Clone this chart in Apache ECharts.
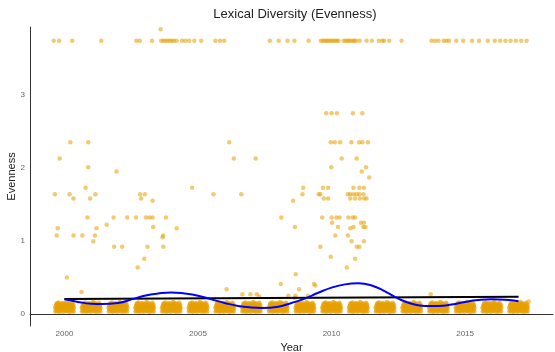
<!DOCTYPE html>
<html><head><meta charset="utf-8">
<script src="https://cdn.jsdelivr.net/npm/echarts@6/dist/echarts.min.js"></script>
<style>html,body{margin:0;padding:0;background:#fff}#c{width:555px;height:352px}</style>
</head><body><div id="c"></div>
<script>
const years = [2000,2001,2002,2003,2004,2005,2006,2007,2008,2009,2010,2011,2012,2013,2014,2015,2016,2017];
// jitter template of the dense low-evenness band (per-year cluster)
const clusterDx = [-0.34,-0.26,-0.19,-0.11,-0.03,0.05,0.12,0.20,0.27,0.34,
  -0.31,-0.23,-0.15,-0.07,0.01,0.09,0.16,0.24,0.31,
  -0.35,-0.27,-0.20,-0.12,-0.04,0.04,0.11,0.19,0.28,0.35,
  -0.32,-0.24,-0.16,-0.08,0.00,0.08,0.15,0.23,0.32,
  -0.30,-0.21,-0.13,-0.05,0.03,0.10,0.18,0.26,0.33,
  -0.22,0.07,0.29,-0.08,-0.28,0.15];
const clusterDy = [0.032,0.038,0.030,0.036,0.031,0.039,0.033,0.029,0.037,0.034,
  0.058,0.064,0.055,0.061,0.057,0.066,0.059,0.054,0.063,
  0.086,0.081,0.089,0.083,0.090,0.080,0.087,0.084,0.091,0.082,
  0.108,0.114,0.106,0.112,0.109,0.115,0.105,0.111,0.107,
  0.133,0.128,0.137,0.131,0.139,0.127,0.134,0.130,0.125,
  0.158,0.162,0.152,0.150,0.148,0.147];
const topRowValue = 3.74;
const topRowYears = [1999.6,1999.8,2000.29,2001.38,2002.69,2002.82,2003.28,2003.62,2003.7,2003.78,2003.86,2003.94,2004.02,2004.1,2004.2,2004.4,2004.53,2004.67,2004.86,2005.12,2005.65,2005.82,2005.98,2007.69,2008.02,2008.35,2008.61,2009.14,2009.6,2009.67,2009.74,2009.8,2009.86,2009.93,2010.0,2010.06,2010.13,2010.2,2010.26,2010.45,2010.52,2010.6,2010.65,2010.72,2010.8,2010.85,2010.92,2011.05,2011.31,2011.51,2011.77,2011.9,2011.97,2012.16,2012.62,2013.74,2013.87,2014.0,2014.2,2014.3,2014.4,2014.67,2014.93,2015.26,2015.52,2015.85,2016.11,2016.31,2016.51,2016.7,2016.9,2017.1,2017.3];
const outliers = [
 [2003.6,3.9],
 [2009.8,2.75],[2010.0,2.75],[2010.2,2.75],[2010.8,2.75],[2011.15,2.75],
 [2000.22,2.35],[2000.89,2.35],[2006.17,2.35],[2009.97,2.35],[2010.12,2.35],[2010.32,2.35],[2010.74,2.35],[2011.03,2.35],[2011.15,2.35],[2011.36,2.35],
 [1999.82,2.13],[2006.34,2.13],[2007.16,2.13],[2010.38,2.13],[2010.94,2.13],
 [2000.89,2.01],[2009.99,2.01],[2011.29,2.01],
 [2001.95,1.95],[2011.13,1.95],[2011.41,1.87],
 [2000.79,1.73],[2004.78,1.73],[2008.94,1.73],[2009.68,1.73],[2009.87,1.73],[2010.82,1.73],[2011.04,1.73],[2011.21,1.73],
 [1999.64,1.64],[2000.19,1.64],[2001.16,1.64],[2002.83,1.64],[2003.01,1.64],[2005.58,1.64],[2006.62,1.64],[2008.91,1.64],[2009.52,1.64],[2009.58,1.64],[2010.61,1.64],[2010.70,1.64],[2010.82,1.64],[2010.94,1.64],[2011.04,1.64],[2011.19,1.64],
 [2000.34,1.58],[2000.96,1.58],[2002.87,1.58],[2009.71,1.58],[2009.87,1.58],[2010.70,1.58],[2010.88,1.58],[2011.06,1.58],[2011.22,1.58],[2011.31,1.58],
 [2003.30,1.55],[2008.56,1.55],
 [2000.86,1.32],[2001.84,1.32],[2002.35,1.32],[2002.68,1.32],[2003.05,1.32],[2003.18,1.32],[2003.30,1.32],[2003.80,1.32],[2008.12,1.32],[2009.65,1.32],[2010.0,1.32],[2010.18,1.32],[2010.30,1.32],[2010.63,1.32],[2010.79,1.32],[2010.88,1.32],
 [2010.02,1.25],[2011.1,1.25],[2011.21,1.25],[2001.58,1.22],
 [2003.32,1.19],[2008.63,1.19],[2010.24,1.19],[2010.82,1.19],[2011.19,1.19],[2011.27,1.19],
 [1999.75,1.175],[2001.2,1.175],[2004.2,1.175],[2010.7,1.175],
 [1999.71,1.075],[2000.34,1.075],[2000.67,1.075],[2001.14,1.075],[2003.70,1.075],[2010.14,1.075],[2010.61,1.075],
 [2003.67,1.05],[2001.08,0.995],[2010.75,0.995],[2011.21,0.995],
 [2001.86,0.92],[2002.16,0.92],[2003.11,0.92],[2003.70,0.92],[2009.58,0.92],[2010.94,0.92],[2011.04,0.92],
 [2009.97,0.785],[2002.99,0.757],[2010.88,0.757],[2002.74,0.636],[2010.57,0.636],
 [2008.66,0.544],[2000.09,0.50],[2008.10,0.41],[2009.34,0.41],[2009.39,0.39],
 [2006.07,0.34],[2008.78,0.34],[2000.64,0.30],
 [2006.66,0.27],[2006.96,0.27],[2007.2,0.27],[2013.71,0.27],
 [2008.38,0.25],[2008.65,0.25],[2009.12,0.25],[2007.29,0.24],[2008.62,0.22],[2017.38,0.17]
];
const lmYears = [2000, 2017];
const lmValues = [0.205, 0.235];
const loessYears = [2000,2000.5,2001,2001.4,2002,2002.6,2003,2003.5,2004,2004.5,2005,2005.5,2006,2006.5,2007,2007.4,2008,2008.5,2009,2009.5,2010,2010.5,2011,2011.5,2012,2012.5,2013,2013.5,2014,2014.5,2015,2015.5,2016,2016.5,2017];
const loessValues = [0.20,0.165,0.14,0.135,0.15,0.21,0.25,0.28,0.295,0.28,0.25,0.20,0.15,0.11,0.088,0.082,0.10,0.15,0.21,0.29,0.36,0.405,0.42,0.39,0.31,0.21,0.14,0.11,0.11,0.13,0.165,0.19,0.20,0.195,0.175];
const xTicks = [2000, 2005, 2010, 2015];
const yTicks = [0, 1, 2, 3];

const clusterData = [];
years.forEach(y => clusterDx.forEach((dx, i) => clusterData.push([y + dx, clusterDy[i]])));
const topData = topRowYears.map(y => [y, topRowValue]);
const lmData = lmYears.map((y, i) => [y, lmValues[i]]);
const loessData = loessYears.map((y, i) => [y, loessValues[i]]);

const FONT = 'Liberation Sans';
const chart = echarts.init(document.getElementById('c'), null, {renderer: 'canvas'});
chart.setOption({
  animation: false,
  backgroundColor: '#fff',
  textStyle: {fontFamily: FONT},
  grid: {left: 30, right: 2, top: 27, bottom: 26, containLabel: false, outerBoundsMode: 'none'},
  graphic: [{type: 'text', x: 295, y: 14, style: {text: 'Lexical Diversity (Evenness)', font: '13px "Liberation Sans"', fill: '#222', align: 'center', verticalAlign: 'middle', textAlign: 'center', textVerticalAlign: 'middle'}}],
  xAxis: {
    type: 'value', min: 1998.71, max: 2018.29,
    splitLine: {show: false},
    axisLine: {show: true, lineStyle: {color: '#333', width: 1}},
    axisTick: {show: false},
    axisLabel: {customValues: xTicks, formatter: v => String(v), color: '#666', fontSize: 8, margin: 4, fontFamily: FONT},
    name: 'Year', nameLocation: 'middle', nameGap: 16, nameMoveOverlap: false,
    nameTextStyle: {fontSize: 11, color: '#222', fontFamily: FONT}
  },
  yAxis: {
    type: 'value', min: -0.165, max: 3.93,
    splitLine: {show: false},
    axisLine: {show: true, lineStyle: {color: '#333', width: 1}},
    axisTick: {show: false},
    axisLabel: {customValues: yTicks, formatter: v => String(v), color: '#666', fontSize: 8, margin: 5, fontFamily: FONT},
    name: 'Evenness', nameLocation: 'middle', nameGap: 13, nameMoveOverlap: false,
    nameTextStyle: {fontSize: 11, color: '#222', fontFamily: FONT}
  },
  series: [
    {type: 'scatter', data: clusterData, symbolSize: 4.5, itemStyle: {color: '#E69F00', opacity: 0.7}, silent: true},
    {type: 'scatter', data: topData, symbolSize: 4.5, itemStyle: {color: '#E69F00', opacity: 0.55}, silent: true},
    {type: 'scatter', data: outliers, symbolSize: 4.5, itemStyle: {color: '#E69F00', opacity: 0.55}, silent: true},
    {type: 'line', data: lmData, showSymbol: false, symbol: 'none', lineStyle: {color: '#000', width: 2}, silent: true},
    {type: 'line', data: loessData, smooth: 0.5, showSymbol: false, symbol: 'none', lineStyle: {color: '#0000FF', width: 2}, silent: true}
  ]
});
</script></body></html>
